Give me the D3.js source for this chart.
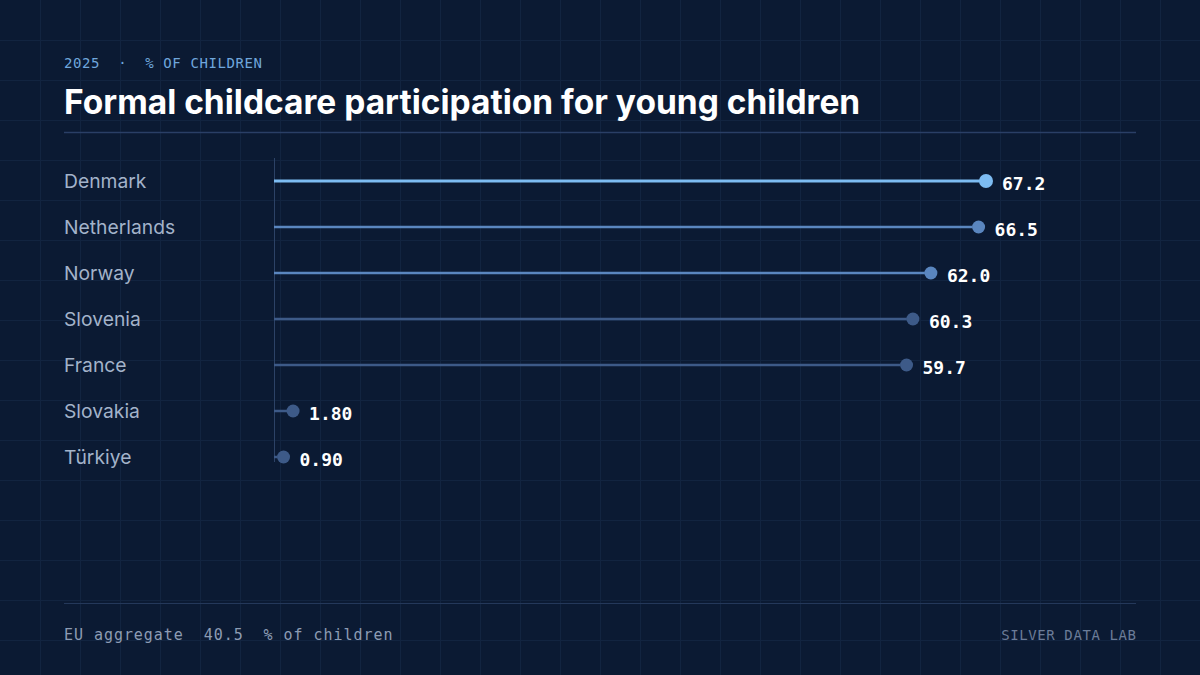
<!DOCTYPE html>
<html><head><meta charset="utf-8">
<script src="https://cdn.jsdelivr.net/npm/d3@7/dist/d3.min.js"></script>
<style>
html,body{margin:0;padding:0;background:#0b1a33;}
svg{display:block;}
</style></head>
<body>
<svg id="c" width="1200" height="675"></svg>
<script>
const countries = ["Denmark","Netherlands","Norway","Slovenia","France","Slovakia","Türkiye"];
const values = [67.2, 66.5, 62.0, 60.3, 59.7, 1.80, 0.90];
const valueLabels = ["67.2","66.5","62.0","60.3","59.7","1.80","0.90"];
const euAggregate = 40.5;

const W = 1200, H = 675;
const svg = d3.select("#c");
const mono = "'DejaVu Sans Mono', 'Liberation Mono', monospace";
const sans = "Inter, 'Noto Sans', sans-serif";

svg.append("rect").attr("width", W).attr("height", H).attr("fill", "#0b1a33");
// background grid
const grid = svg.append("g").attr("stroke", "#122440").attr("stroke-width", 1);
d3.range(40, W, 40).forEach(x => grid.append("line").attr("x1", x+0.5).attr("x2", x+0.5).attr("y1", 0).attr("y2", H));
d3.range(40, H, 40).forEach(y => grid.append("line").attr("y1", y+0.5).attr("y2", y+0.5).attr("x1", 0).attr("x2", W));

// header
svg.append("text").attr("x", 64).attr("y", 68).attr("font-family", mono).attr("font-size", 14)
  .attr("letter-spacing", 0.6).attr("fill", "#6fa6dc").attr("xml:space","preserve").text("2025  ·  % OF CHILDREN");
svg.append("text").attr("x", 64).attr("y", 114).attr("font-family", sans).attr("font-weight", 700)
  .attr("font-size", 33.5).attr("letter-spacing", 0).attr("fill", "#ffffff").text("Formal childcare participation for young children");
svg.append("line").attr("x1", 64).attr("x2", 1136).attr("y1", 132.5).attr("y2", 132.5).attr("stroke", "#2a3f66").attr("stroke-width", 1.5);

// scales
const x = d3.scaleLinear().domain([0, d3.max(values)]).range([274, 986]);
const y = d3.scalePoint().domain(countries).range([181, 457]);

function col(v, i){ return i === 0 ? "#7dbcf2" : (v >= 61 ? "#5a86bf" : "#3d5a88"); }

// axis baseline
svg.append("line").attr("x1", 274.5).attr("x2", 274.5).attr("y1", 158).attr("y2", 462).attr("stroke", "#2c4266").attr("stroke-width", 1);

const rows = svg.append("g").selectAll("g").data(countries).join("g");
rows.append("text").attr("x", 64).attr("y", d => y(d) + 7).attr("font-family", sans).attr("font-size", 19.3)
  .attr("fill", "#a3b3ca").text(d => d);
rows.append("line").attr("x1", x(0)).attr("x2", (d,i) => Math.max(x(0), x(values[i]) - 6))
  .attr("y1", d => y(d)).attr("y2", d => y(d))
  .attr("stroke", (d,i) => col(values[i], i)).attr("stroke-width", (d,i) => i === 0 ? 3 : 2.5);
rows.append("circle").attr("cx", (d,i) => x(values[i])).attr("cy", d => y(d))
  .attr("r", (d,i) => i === 0 ? 7 : 6.5).attr("fill", (d,i) => col(values[i], i));
rows.append("text").attr("x", (d,i) => x(values[i]) + 16).attr("y", d => y(d) + 8.5)
  .attr("font-family", mono).attr("font-weight", 700).attr("font-size", 18).attr("fill", "#ffffff")
  .text((d,i) => valueLabels[i]);

// footer
svg.append("line").attr("x1", 64).attr("x2", 1136).attr("y1", 603.5).attr("y2", 603.5).attr("stroke", "#24385a").attr("stroke-width", 1);
svg.append("text").attr("x", 64).attr("y", 640).attr("font-family", mono).attr("font-size", 15)
  .attr("letter-spacing", 0.95).attr("fill", "#8d9cb3").attr("xml:space","preserve").text("EU aggregate  " + euAggregate.toFixed(1) + "  % of children");
svg.append("text").attr("x", 1136.6).attr("y", 640).attr("text-anchor", "end").attr("font-family", mono).attr("font-size", 14)
  .attr("letter-spacing", 0.6).attr("fill", "#6b7c98").text("SILVER DATA LAB");
</script>
</body></html>
